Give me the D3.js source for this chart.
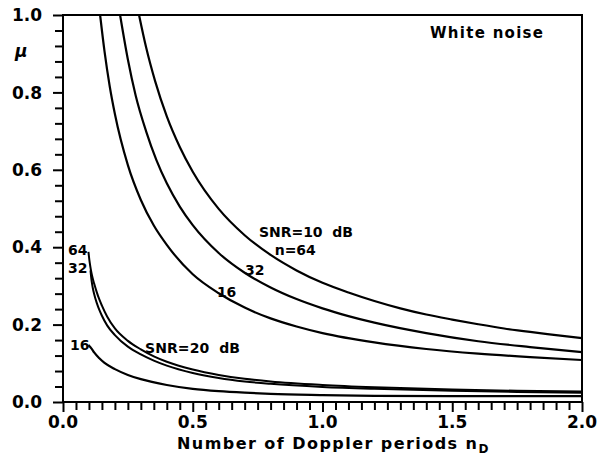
<!DOCTYPE html>
<html>
<head>
<meta charset="utf-8">
<script src="https://cdn.jsdelivr.net/npm/d3@7/dist/d3.min.js"></script>
<style>
  html, body { margin: 0; padding: 0; background: #fff; }
  svg { display: block; }
  text { font-family: "DejaVu Sans", sans-serif; font-weight: bold; fill: #000; }
</style>
</head>
<body>
<svg id="chart" width="597" height="460"></svg>
<script>
// ---- data ----
const xMajorTicks = [0, 0.5, 1.0, 1.5, 2.0];
const yMajorTicks = [0, 0.2, 0.4, 0.6, 0.8, 1.0];
const xTitle = "Number of Doppler periods n";
const xTitleSub = "D";
const yTitle = "\u03bc";
const noteText = "White noise";

// SNR = 10 dB
const snr10_n64_x = [0.293,0.32,0.355,0.4,0.45,0.5,0.6,0.7,0.8,0.9,1.0,1.1,1.2,1.3,1.4,1.5,1.6,1.7,1.8,1.9,2.0];
const snr10_n64_y = [1.0,0.917,0.829,0.738,0.659,0.595,0.499,0.431,0.380,0.340,0.308,0.283,0.261,0.242,0.226,0.213,0.201,0.190,0.181,0.173,0.165];
const snr10_n32_x = [0.22,0.25,0.28,0.32,0.36,0.4,0.45,0.5,0.6,0.7,0.8,0.9,1.0,1.1,1.2,1.4,1.6,1.8,2.0];
const snr10_n32_y = [1.0,0.885,0.792,0.700,0.625,0.565,0.505,0.457,0.385,0.334,0.296,0.266,0.242,0.222,0.205,0.178,0.157,0.142,0.129];
const snr10_n16_x = [0.143,0.16,0.18,0.2,0.25,0.3,0.35,0.4,0.5,0.6,0.7,0.8,0.9,1.0,1.2,1.4,1.6,1.8,2.0];
const snr10_n16_y = [1.0,0.906,0.816,0.744,0.612,0.522,0.456,0.406,0.330,0.281,0.244,0.216,0.195,0.178,0.154,0.137,0.125,0.116,0.1085];

// SNR = 20 dB
const snr20_n64_x = [0.098,0.1,0.103,0.107,0.112,0.12,0.13,0.14,0.15,0.17,0.2,0.25,0.3,0.35,0.4,0.5,0.6,0.7,0.8,1.0,1.2,1.5,1.75,2.0];
const snr20_n64_y = [0.388,0.376,0.360,0.343,0.326,0.306,0.284,0.265,0.249,0.221,0.190,0.158,0.136,0.118,0.104,0.084,0.070,0.060,0.053,0.044,0.038,0.032,0.029,0.027];
const snr20_n32_x = [0.106,0.108,0.111,0.115,0.12,0.13,0.14,0.15,0.17,0.2,0.25,0.3,0.35,0.4,0.5,0.6,0.7,0.8,1.0,1.2,1.5,1.75,2.0];
const snr20_n32_y = [0.340,0.326,0.310,0.294,0.279,0.256,0.238,0.223,0.198,0.173,0.143,0.123,0.107,0.094,0.075,0.062,0.053,0.047,0.039,0.034,0.029,0.026,0.024];
const snr20_n16_x = [0.098,0.11,0.12,0.14,0.16,0.2,0.25,0.3,0.4,0.5,0.6,0.7,0.8,1.0,1.2,1.5,1.75,2.0];
const snr20_n16_y = [0.147,0.138,0.128,0.113,0.101,0.085,0.070,0.059,0.044,0.034,0.028,0.024,0.021,0.018,0.016,0.015,0.015,0.015];

const series = [
  {x: snr10_n64_x, y: snr10_n64_y, w: 2.2},
  {x: snr10_n32_x, y: snr10_n32_y, w: 2.2},
  {x: snr10_n16_x, y: snr10_n16_y, w: 2.2},
  {x: snr20_n64_x, y: snr20_n64_y, w: 2},
  {x: snr20_n32_x, y: snr20_n32_y, w: 2},
  {x: snr20_n16_x, y: snr20_n16_y, w: 2.2}
];

// curve labels: text, data-anchored position
const curveLabels = [
  {t: "SNR=10  dB", x: 0.755, y: 0.426, w: 94},
  {t: "n=64", x: 0.816, y: 0.380, w: 41},
  {t: "32", x: 0.701, y: 0.329},
  {t: "16", x: 0.593, y: 0.272},
  {t: "SNR=20  dB", x: 0.316, y: 0.127, w: 95},
  {t: "64", x: 0.019, y: 0.379},
  {t: "32", x: 0.019, y: 0.333},
  {t: "16", x: 0.027, y: 0.134}
];

// ---- layout ----
const L = 63, R = 582, T = 15, B = 402;
const svg = d3.select("#chart");
const x = d3.scaleLinear().domain([0, 2]).range([L, R]);
const y = d3.scaleLinear().domain([0, 1]).range([B, T]);

// minor ticks
const xMinor = d3.range(0, 2.0001, 0.05).map(v => +v.toFixed(2));
const yMinor = d3.range(0, 1.0001, 0.04).map(v => +v.toFixed(2));

const gx = svg.append("g").attr("transform", `translate(0,${B})`)
  .call(d3.axisBottom(x).tickValues(xMinor).tickSize(8).tickFormat(""));
const gy = svg.append("g").attr("transform", `translate(${L},0)`)
  .call(d3.axisLeft(y).tickValues(yMinor).tickSize(8).tickFormat(""));
[gx, gy].forEach(g => {
  g.select(".domain").remove();
  g.selectAll("line").attr("stroke", "#000").attr("stroke-width", 2);
});
gx.selectAll(".tick").filter(d => xMajorTicks.some(m => Math.abs(m - d) < 1e-6))
  .select("line").attr("y2", 10);
gy.selectAll(".tick").filter(d => yMajorTicks.some(m => Math.abs(m - d) < 1e-6))
  .select("line").attr("x2", -10);

// frame
svg.append("rect").attr("x", L).attr("y", T).attr("width", R - L).attr("height", B - T)
  .attr("fill", "none").attr("stroke", "#000").attr("stroke-width", 2);

// tick labels
const fmt = d3.format(".1f");
svg.append("g").selectAll("text").data(xMajorTicks).join("text")
  .attr("x", d => x(d)).attr("y", 428).attr("text-anchor", "middle")
  .attr("font-size", 17).text(d => fmt(d));
svg.append("g").selectAll("text").data(yMajorTicks).join("text")
  .attr("x", 42).attr("y", d => y(d)).attr("dy", "0.36em").attr("text-anchor", "end")
  .attr("font-size", 17).text(d => fmt(d));

// curves
const line = d3.line().x(d => x(d[0])).y(d => y(d[1])).curve(d3.curveMonotoneX);
svg.append("g").selectAll("path").data(series).join("path")
  .attr("d", s => line(s.x.map((v, i) => [v, s.y[i]])))
  .attr("fill", "none").attr("stroke", "#000").attr("stroke-width", s => s.w)
  .attr("stroke-linejoin", "round");

// curve labels
svg.append("g").selectAll("text").data(curveLabels).join("text")
  .attr("x", d => x(d.x)).attr("y", d => y(d.y))
  .attr("font-size", 14)
  .style("white-space", "pre")
  .each(function(d) { if (d.w) d3.select(this).attr("textLength", d.w).attr("lengthAdjust", "spacing"); })
  .text(d => d.t);

// note
svg.append("text").attr("x", 430).attr("y", 38).attr("font-size", 15)
  .attr("textLength", 113).attr("lengthAdjust", "spacing").text(noteText);

// y title
svg.append("text").attr("x", 15).attr("y", 57).attr("font-size", 17)
  .attr("font-style", "italic").text(yTitle);

// x title
const xt = svg.append("text").attr("x", 177).attr("y", 449).attr("font-size", 16);
xt.append("tspan").attr("textLength", 300).attr("lengthAdjust", "spacing").text(xTitle);
xt.append("tspan").attr("font-size", 12).attr("dy", 4).text(xTitleSub);
</script>
</body>
</html>
